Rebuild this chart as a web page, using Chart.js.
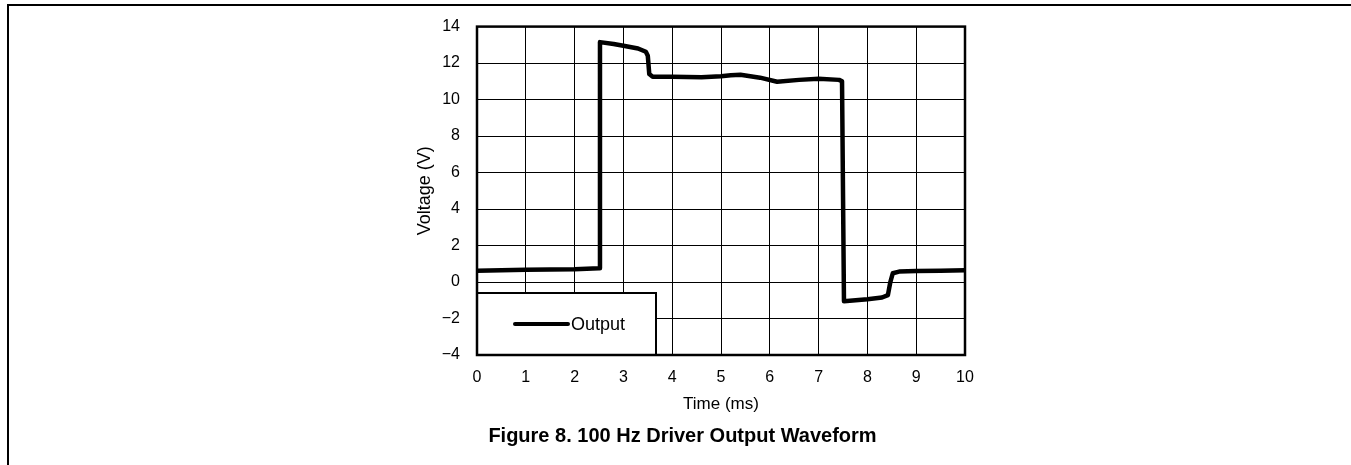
<!DOCTYPE html>
<html>
<head>
<meta charset="utf-8">
<script src="https://cdn.jsdelivr.net/npm/chart.js@4/dist/chart.umd.min.js"></script>
<style>
  body { margin: 0; background: #fff; }
  canvas { display: block; }
</style>
</head>
<body>
<canvas id="waveChart" width="1351" height="465"></canvas>
<script>
// Waveform
const timeMs = [0, 0.5, 1.0, 1.5, 2.0, 2.5, 2.52, 2.8, 3.0, 3.3, 3.46, 3.5, 3.53, 3.6, 4.0, 4.6, 5.0, 5.2, 5.4, 5.8, 6.15, 6.6, 7.0, 7.42, 7.48, 7.52, 8.0, 8.3, 8.42, 8.47, 8.52, 8.65, 9.0, 9.5, 10];
const voltage = [0.62, 0.64, 0.67, 0.68, 0.7, 0.75, 13.15, 13.05, 12.95, 12.8, 12.62, 12.4, 11.4, 11.25, 11.25, 11.22, 11.28, 11.33, 11.36, 11.2, 10.98, 11.08, 11.14, 11.08, 11.0, -1.05, -0.95, -0.85, -0.72, 0.0, 0.48, 0.57, 0.6, 0.62, 0.65];

const xTicks = [0, 1, 2, 3, 4, 5, 6, 7, 8, 9, 10];
const yTicks = [-4, -2, 0, 2, 4, 6, 8, 10, 12, 14];

const seriesLabel = 'Output';
const xTitle = 'Time (ms)';
const yTitle = 'Voltage (V)';
const caption = 'Figure 8. 100 Hz Driver Output Waveform';

const FONT = "'Liberation Sans', Arial, sans-serif";

// page frame (top + left rule)
const pageFrame = {
    id: 'pageFrame',
    beforeDraw(chart) {
        const ctx = chart.ctx;
        ctx.save();
        ctx.fillStyle = '#fff';
        ctx.fillRect(0, 0, chart.width, chart.height);
        ctx.strokeStyle = '#000';
        ctx.lineWidth = 2;
        ctx.beginPath();
        ctx.moveTo(chart.width, 5);
        ctx.lineTo(8, 5);
        ctx.lineTo(8, chart.height);
        ctx.stroke();
        ctx.restore();
    }
};

// boxed legend in the lower left corner + plot border
const boxLegend = {
    id: 'boxLegend',
    afterDatasetsDraw(chart) {
        const ctx = chart.ctx;
        const a = chart.chartArea;
        const ds = chart.data.datasets[0];
        ctx.save();
        const bx = a.left, by = a.bottom - 62, bw = 179, bh = 62;
        ctx.fillStyle = '#fff';
        ctx.fillRect(bx, by, bw, bh);
        ctx.strokeStyle = '#000';
        ctx.lineWidth = 2;
        ctx.strokeRect(bx, by, bw, bh);

        const ly = by + 31;
        ctx.lineWidth = 4;
        ctx.lineCap = 'round';
        ctx.beginPath();
        ctx.moveTo(bx + 38, ly);
        ctx.lineTo(bx + 91, ly);
        ctx.stroke();
        ctx.fillStyle = '#000';
        ctx.font = '18px ' + FONT;
        ctx.textBaseline = 'middle';
        ctx.fillText(ds.label, bx + 94, ly + 1);

        // plot border
        ctx.lineCap = 'butt';
        ctx.lineWidth = 2.5;
        ctx.strokeRect(a.left, a.top, a.right - a.left, a.bottom - a.top);
        ctx.restore();
    }
};

new Chart(document.getElementById('waveChart'), {
    type: 'line',
    data: {
        datasets: [{
            label: seriesLabel,
            data: timeMs.map((t, i) => ({ x: t, y: voltage[i] })),
            borderColor: '#000',
            borderWidth: 4.5,
            borderJoinStyle: 'round',
            pointRadius: 0,
            tension: 0,
            fill: false
        }]
    },
    options: {
        responsive: false,
        animation: false,
        layout: { padding: { left: 400, right: 386, top: 18, bottom: 0 } },
        plugins: {
            legend: { display: false },
            tooltip: { enabled: false },
            title: {
                display: true,
                position: 'bottom',
                text: caption,
                color: '#000',
                font: { family: FONT, size: 20, weight: 'bold', lineHeight: 1.2 },
                padding: { top: 0, bottom: 17 }
            }
        },
        scales: {
            x: {
                type: 'linear',
                min: 0,
                max: 10,
                afterBuildTicks: s => { s.ticks = xTicks.map(v => ({ value: v })); },
                afterFit: s => { s.height = 69; },
                grid: { color: '#000', lineWidth: 1, drawTicks: false },
                border: { color: '#000', width: 2 },
                ticks: {
                    color: '#000',
                    padding: 13,
                    maxRotation: 0,
                    font: { family: FONT, size: 16 }
                },
                title: {
                    display: true,
                    text: xTitle,
                    color: '#000',
                    font: { family: FONT, size: 17, lineHeight: 1.2 },
                    padding: { top: 0, bottom: 9 }
                }
            },
            y: {
                min: -4,
                max: 14,
                afterBuildTicks: s => { s.ticks = yTicks.map(v => ({ value: v })); },
                afterFit: s => { s.width = 77; },
                grid: { color: '#000', lineWidth: 1, drawTicks: false },
                border: { color: '#000', width: 2 },
                ticks: {
                    color: '#000',
                    padding: 17,
                    font: { family: FONT, size: 16 },
                    callback: v => String(v).replace('-', '\u2212')
                },
                title: {
                    display: true,
                    text: yTitle,
                    color: '#000',
                    font: { family: FONT, size: 18, lineHeight: 1.2 },
                    padding: { top: 14, bottom: 0 }
                }
            }
        }
    },
    plugins: [pageFrame, boxLegend]
});
</script>
</body>
</html>
